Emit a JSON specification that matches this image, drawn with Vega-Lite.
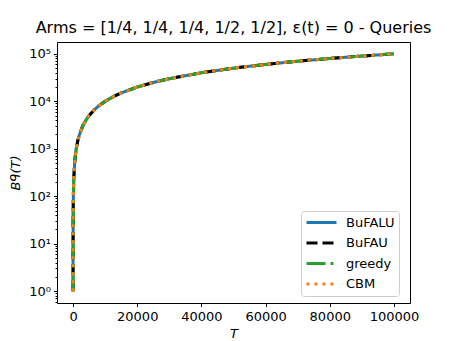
{
  "$schema": "https://vega.github.io/schema/vega-lite/v6.json",
  "width": 353,
  "height": 261,
  "autosize": "none",
  "padding": {"left": 57, "top": 42, "right": 45, "bottom": 38},
  "background": "white",
  "title": {"text": "Arms = [1/4, 1/4, 1/4, 1/2, 1/2], ε(t) = 0 - Queries", "font": "DejaVu Sans", "fontSize": 16, "fontWeight": "normal", "color": "black", "offset": 6},
  "config": {
    "view": {"stroke": "black", "strokeWidth": 1},
    "axis": {"domain": false, "grid": false, "labelFont": "DejaVu Sans", "labelFontSize": 13, "labelColor": "black", "tickColor": "black", "tickWidth": 1, "titleFont": "DejaVu Sans", "titleFontSize": 13, "titleFontWeight": "normal", "titleFontStyle": "italic", "titleColor": "black"}
  },
  "datasets": {
    "runs": [
      {"T":1,"Bq":1,"algo":"BuFALU"},{"T":2,"Bq":2,"algo":"BuFALU"},{"T":4,"Bq":4,"algo":"BuFALU"},{"T":8,"Bq":8,"algo":"BuFALU"},{"T":15,"Bq":15,"algo":"BuFALU"},{"T":30,"Bq":30,"algo":"BuFALU"},{"T":60,"Bq":60,"algo":"BuFALU"},{"T":120,"Bq":120,"algo":"BuFALU"},{"T":250,"Bq":250,"algo":"BuFALU"},{"T":500,"Bq":500,"algo":"BuFALU"},{"T":750,"Bq":750,"algo":"BuFALU"},{"T":1000,"Bq":1000,"algo":"BuFALU"},{"T":1500,"Bq":1500,"algo":"BuFALU"},{"T":2000,"Bq":2000,"algo":"BuFALU"},{"T":3000,"Bq":3000,"algo":"BuFALU"},{"T":4000,"Bq":4000,"algo":"BuFALU"},{"T":5000,"Bq":5000,"algo":"BuFALU"},{"T":6500,"Bq":6500,"algo":"BuFALU"},{"T":8000,"Bq":8000,"algo":"BuFALU"},{"T":10000,"Bq":10000,"algo":"BuFALU"},{"T":12500,"Bq":12500,"algo":"BuFALU"},{"T":15000,"Bq":15000,"algo":"BuFALU"},{"T":20000,"Bq":20000,"algo":"BuFALU"},{"T":25000,"Bq":25000,"algo":"BuFALU"},{"T":30000,"Bq":30000,"algo":"BuFALU"},{"T":40000,"Bq":40000,"algo":"BuFALU"},{"T":50000,"Bq":50000,"algo":"BuFALU"},{"T":60000,"Bq":60000,"algo":"BuFALU"},{"T":70000,"Bq":70000,"algo":"BuFALU"},{"T":80000,"Bq":80000,"algo":"BuFALU"},{"T":90000,"Bq":90000,"algo":"BuFALU"},{"T":100000,"Bq":100000,"algo":"BuFALU"},
      {"T":1,"Bq":1,"algo":"BuFAU"},{"T":2,"Bq":2,"algo":"BuFAU"},{"T":4,"Bq":4,"algo":"BuFAU"},{"T":8,"Bq":8,"algo":"BuFAU"},{"T":15,"Bq":15,"algo":"BuFAU"},{"T":30,"Bq":30,"algo":"BuFAU"},{"T":60,"Bq":60,"algo":"BuFAU"},{"T":120,"Bq":120,"algo":"BuFAU"},{"T":250,"Bq":250,"algo":"BuFAU"},{"T":500,"Bq":500,"algo":"BuFAU"},{"T":750,"Bq":750,"algo":"BuFAU"},{"T":1000,"Bq":1000,"algo":"BuFAU"},{"T":1500,"Bq":1500,"algo":"BuFAU"},{"T":2000,"Bq":2000,"algo":"BuFAU"},{"T":3000,"Bq":3000,"algo":"BuFAU"},{"T":4000,"Bq":4000,"algo":"BuFAU"},{"T":5000,"Bq":5000,"algo":"BuFAU"},{"T":6500,"Bq":6500,"algo":"BuFAU"},{"T":8000,"Bq":8000,"algo":"BuFAU"},{"T":10000,"Bq":10000,"algo":"BuFAU"},{"T":12500,"Bq":12500,"algo":"BuFAU"},{"T":15000,"Bq":15000,"algo":"BuFAU"},{"T":20000,"Bq":20000,"algo":"BuFAU"},{"T":25000,"Bq":25000,"algo":"BuFAU"},{"T":30000,"Bq":30000,"algo":"BuFAU"},{"T":40000,"Bq":40000,"algo":"BuFAU"},{"T":50000,"Bq":50000,"algo":"BuFAU"},{"T":60000,"Bq":60000,"algo":"BuFAU"},{"T":70000,"Bq":70000,"algo":"BuFAU"},{"T":80000,"Bq":80000,"algo":"BuFAU"},{"T":90000,"Bq":90000,"algo":"BuFAU"},{"T":100000,"Bq":100000,"algo":"BuFAU"},
      {"T":1,"Bq":1,"algo":"greedy"},{"T":2,"Bq":2,"algo":"greedy"},{"T":4,"Bq":4,"algo":"greedy"},{"T":8,"Bq":8,"algo":"greedy"},{"T":15,"Bq":15,"algo":"greedy"},{"T":30,"Bq":30,"algo":"greedy"},{"T":60,"Bq":60,"algo":"greedy"},{"T":120,"Bq":120,"algo":"greedy"},{"T":250,"Bq":250,"algo":"greedy"},{"T":500,"Bq":500,"algo":"greedy"},{"T":750,"Bq":750,"algo":"greedy"},{"T":1000,"Bq":1000,"algo":"greedy"},{"T":1500,"Bq":1500,"algo":"greedy"},{"T":2000,"Bq":2000,"algo":"greedy"},{"T":3000,"Bq":3000,"algo":"greedy"},{"T":4000,"Bq":4000,"algo":"greedy"},{"T":5000,"Bq":5000,"algo":"greedy"},{"T":6500,"Bq":6500,"algo":"greedy"},{"T":8000,"Bq":8000,"algo":"greedy"},{"T":10000,"Bq":10000,"algo":"greedy"},{"T":12500,"Bq":12500,"algo":"greedy"},{"T":15000,"Bq":15000,"algo":"greedy"},{"T":20000,"Bq":20000,"algo":"greedy"},{"T":25000,"Bq":25000,"algo":"greedy"},{"T":30000,"Bq":30000,"algo":"greedy"},{"T":40000,"Bq":40000,"algo":"greedy"},{"T":50000,"Bq":50000,"algo":"greedy"},{"T":60000,"Bq":60000,"algo":"greedy"},{"T":70000,"Bq":70000,"algo":"greedy"},{"T":80000,"Bq":80000,"algo":"greedy"},{"T":90000,"Bq":90000,"algo":"greedy"},{"T":100000,"Bq":100000,"algo":"greedy"},
      {"T":1,"Bq":1,"algo":"CBM"},{"T":2,"Bq":2,"algo":"CBM"},{"T":4,"Bq":4,"algo":"CBM"},{"T":8,"Bq":8,"algo":"CBM"},{"T":15,"Bq":15,"algo":"CBM"},{"T":30,"Bq":30,"algo":"CBM"},{"T":60,"Bq":60,"algo":"CBM"},{"T":120,"Bq":120,"algo":"CBM"},{"T":250,"Bq":250,"algo":"CBM"},{"T":500,"Bq":500,"algo":"CBM"},{"T":750,"Bq":750,"algo":"CBM"},{"T":1000,"Bq":1000,"algo":"CBM"},{"T":1500,"Bq":1500,"algo":"CBM"},{"T":2000,"Bq":2000,"algo":"CBM"},{"T":3000,"Bq":3000,"algo":"CBM"},{"T":4000,"Bq":4000,"algo":"CBM"},{"T":5000,"Bq":5000,"algo":"CBM"},{"T":6500,"Bq":6500,"algo":"CBM"},{"T":8000,"Bq":8000,"algo":"CBM"},{"T":10000,"Bq":10000,"algo":"CBM"},{"T":12500,"Bq":12500,"algo":"CBM"},{"T":15000,"Bq":15000,"algo":"CBM"},{"T":20000,"Bq":20000,"algo":"CBM"},{"T":25000,"Bq":25000,"algo":"CBM"},{"T":30000,"Bq":30000,"algo":"CBM"},{"T":40000,"Bq":40000,"algo":"CBM"},{"T":50000,"Bq":50000,"algo":"CBM"},{"T":60000,"Bq":60000,"algo":"CBM"},{"T":70000,"Bq":70000,"algo":"CBM"},{"T":80000,"Bq":80000,"algo":"CBM"},{"T":90000,"Bq":90000,"algo":"CBM"},{"T":100000,"Bq":100000,"algo":"CBM"}
    ]
  },
  "data": {"name": "runs"},
  "mark": {"type": "line", "strokeWidth": 3, "clip": true},
  "encoding": {
    "x": {
      "field": "T", "type": "quantitative", "title": "T",
      "scale": {"domain": [-5000, 105000], "nice": false, "zero": false},
      "axis": {"values": [0, 20000, 40000, 60000, 80000, 100000], "format": "d", "tickSize": 3.5, "labelPadding": 3.5, "titlePadding": 4, "labelFlush": false}
    },
    "y": {
      "field": "Bq", "type": "quantitative", "title": "Bᑫ(T)",
      "scale": {"type": "log", "domain": [0.5623, 177828], "nice": false},
      "axis": {
        "values": [0.6, 0.7, 0.8, 0.9, 1, 2, 3, 4, 5, 6, 7, 8, 9, 10, 20, 30, 40, 50, 60, 70, 80, 90, 100, 200, 300, 400, 500, 600, 700, 800, 900, 1000, 2000, 3000, 4000, 5000, 6000, 7000, 8000, 9000, 10000, 20000, 30000, 40000, 50000, 60000, 70000, 80000, 90000, 100000],
        "labelExpr": "indexof([1,10,100,1000,10000,100000], datum.value) >= 0 ? '10' + ['⁰','¹','²','³','⁴','⁵'][round(log(datum.value)/LN10)] : ''",
        "tickSize": {"condition": {"test": "indexof([1,10,100,1000,10000,100000], datum.value) >= 0", "value": 3.5}, "value": 2},
        "labelOverlap": false, "labelPadding": 3, "titlePadding": 6, "labelFlush": false
      }
    },
    "color": {
      "field": "algo", "type": "nominal", "title": null,
      "scale": {"domain": ["BuFALU", "BuFAU", "greedy", "CBM"], "range": ["#1f77b4", "#000000", "#2ca02c", "#ff7f0e"]},
      "legend": {
        "orient": "none", "legendX": 244, "legendY": 169,
        "symbolType": "stroke", "symbolSize": 900, "symbolStrokeWidth": 3, "clipHeight": 15, "rowPadding": 5.5,
        "padding": 4, "labelOffset": 8, "labelFont": "DejaVu Sans", "labelFontSize": 13, "labelColor": "black",
        "strokeColor": "#cccccc", "cornerRadius": 3, "fillColor": "white"
      }
    },
    "strokeDash": {
      "field": "algo", "type": "nominal", "title": null,
      "scale": {"domain": ["BuFALU", "BuFAU", "greedy", "CBM"], "range": [[1, 0], [11, 5], [19, 5, 3, 5], [3, 5]]},
      "legend": {
        "orient": "none", "legendX": 244, "legendY": 169,
        "symbolType": "stroke", "symbolSize": 900, "symbolStrokeWidth": 3, "clipHeight": 15, "rowPadding": 5.5,
        "padding": 4, "labelOffset": 8, "labelFont": "DejaVu Sans", "labelFontSize": 13, "labelColor": "black",
        "strokeColor": "#cccccc", "cornerRadius": 3, "fillColor": "white"
      }
    }
  }
}
